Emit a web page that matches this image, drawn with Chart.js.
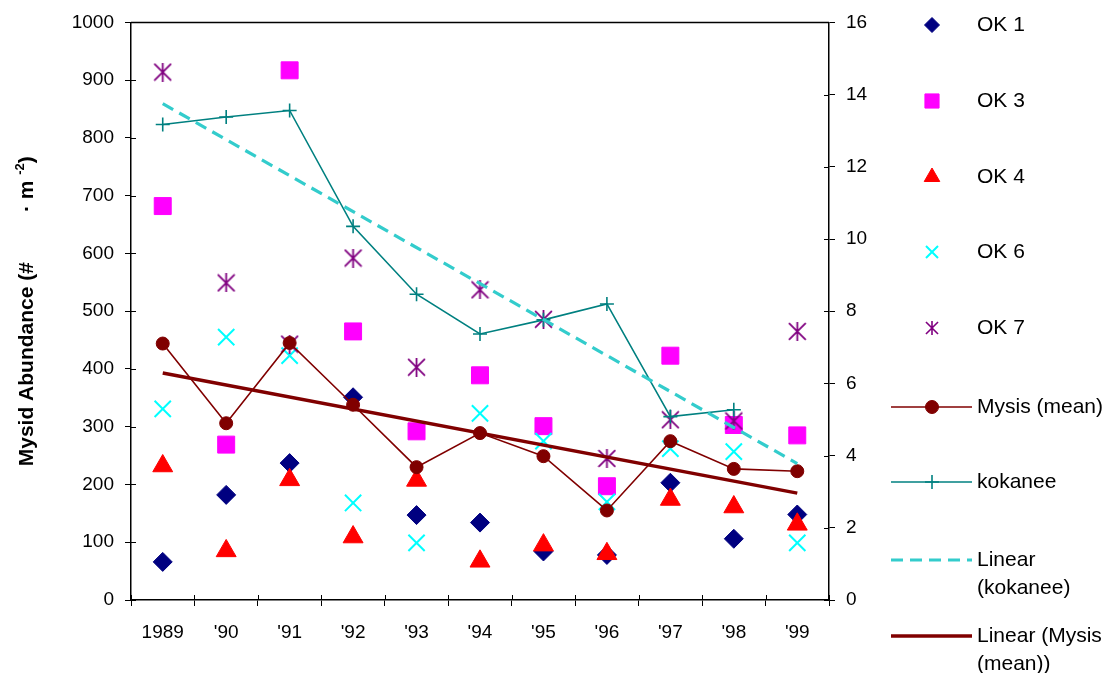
<!DOCTYPE html>
<html><head><meta charset="utf-8">
<script src="https://cdn.jsdelivr.net/npm/chart.js@4/dist/chart.umd.min.js"></script>
<style>html,body{margin:0;padding:0;background:#fff}#wrap{width:1112px;height:673px;position:relative}</style>
</head><body><div id="wrap"><canvas id="c" width="1112" height="673"></canvas></div>
<script>
const years = ['1989', "'90", "'91", "'92", "'93", "'94", "'95", "'96", "'97", "'98", "'99"];
const ok1 = [66, 182, 237, 351, 147, 134, 84, 78, 203, 106, 148];
const ok3 = [682, 269, 917, 465, 292, 389, 301, 197, 423, 303, 285];
const ok4 = [232, 85, 208, 109, 207, 67, 95, 80, 174, 161, 131];
const ok6 = [331, 455, 423, 168, 99, 323, 275, 170, 262, 257, 99];
const ok7 = [914, 549, 443, 592, 403, 537, 486, 245, 312, 310, 465];
const mysisMean = [444, 306, 445, 338, 230, 289, 249, 155, 275, 227, 223];
const kokanee = [13.17, 13.38, 13.56, 10.35, 8.47, 7.37, 7.76, 8.2, 5.08, 5.27, null];
const linearKokanee = [13.75, null, null, null, null, null, null, null, null, null, 3.78];
const linearMysis = [393, null, null, null, null, null, null, null, null, null, 185];
const leftAxis = {min: 0, max: 1000, step: 100};
const rightAxis = {min: 0, max: 16, step: 2};
const yTitle = ['Mysid Abundance (#', '\u00B7 m ', '-2', ')'];

const FONT = '"Liberation Sans", Arial, sans-serif';

function makeAsterisk(size, color, lw) {
  const c = document.createElement('canvas');
  c.width = size; c.height = size;
  const g = c.getContext('2d');
  g.strokeStyle = color; g.lineWidth = lw;
  const m = lw * 0.6;
  g.beginPath();
  g.moveTo(m, m); g.lineTo(size - m, size - m);
  g.moveTo(size - m, m); g.lineTo(m, size - m);
  g.moveTo(size / 2, 0); g.lineTo(size / 2, size);
  g.stroke();
  return c;
}
const astBig = makeAsterisk(19, '#800080', 1.8);
const astSmall = makeAsterisk(14, '#800080', 1.6);

const datasets = [
  {label: 'OK 1', data: ok1, showLine: false, pointStyle: 'rectRot', pointRadius: 9.5, pointBackgroundColor: '#000080', pointBorderColor: '#000080', pointBorderWidth: 1, yAxisID: 'y', order: 9, legendR: 7.5},
  {label: 'OK 3', data: ok3, showLine: false, pointStyle: 'rect', pointRadius: 12, pointBackgroundColor: '#FF00FF', pointBorderColor: '#FF00FF', pointBorderWidth: 1, yAxisID: 'y', order: 8, legendR: 10},
  {label: 'OK 4', data: ok4, showLine: false, pointStyle: 'triangle', pointRadius: 11.5, pointBackgroundColor: '#FF0000', pointBorderColor: '#FF0000', pointBorderWidth: 1, yAxisID: 'y', order: 7, legendR: 9},
  {label: 'OK 6', data: ok6, showLine: false, pointStyle: 'crossRot', pointRadius: 11.5, pointBackgroundColor: '#00FFFF', pointBorderColor: '#00FFFF', pointBorderWidth: 2, yAxisID: 'y', order: 6, legendR: 8.5},
  {label: 'OK 7', data: ok7, showLine: false, pointStyle: astBig, pointRadius: 9, pointBackgroundColor: '#800080', pointBorderColor: '#800080', pointBorderWidth: 1.5, yAxisID: 'y', order: 5, legendImg: astSmall},
  {label: 'Mysis (mean)', data: mysisMean, borderColor: '#800000', borderWidth: 1.6, pointStyle: 'circle', pointRadius: 6.5, pointBackgroundColor: '#800000', pointBorderColor: '#800000', pointBorderWidth: 1, yAxisID: 'y', order: 4, isLine: true, legendR: 6.5},
  {label: 'kokanee', data: kokanee, borderColor: '#008080', borderWidth: 1.6, pointStyle: 'cross', pointRadius: 7, pointBackgroundColor: '#008080', pointBorderColor: '#008080', pointBorderWidth: 1.6, yAxisID: 'y2', order: 3, isLine: true, legendR: 7},
  {label: ['Linear', '(kokanee)'], data: linearKokanee, borderColor: '#33CCCC', borderWidth: 3.2, borderDash: [12, 7], pointRadius: 0, spanGaps: true, yAxisID: 'y2', order: 2, isLine: true},
  {label: ['Linear (Mysis', '(mean))'], data: linearMysis, borderColor: '#800000', borderWidth: 3.5, pointRadius: 0, spanGaps: true, yAxisID: 'y', order: 1, isLine: true}
];
datasets.forEach(d => { d.fill = false; d.tension = 0; d.pointHoverRadius = d.pointRadius; if (!d.borderColor) d.borderColor = d.pointBorderColor; });

const legendYs = [25, 101, 177, 252, 328, 407, 482, 560, 636];

const framePlugin = {
  id: 'frame',
  beforeDatasetsDraw(chart) {
    const {ctx, chartArea: a, scales} = chart;
    ctx.save();
    ctx.strokeStyle = '#000';
    ctx.lineWidth = 1.5;
    ctx.beginPath();
    ctx.moveTo(a.left, a.top); ctx.lineTo(a.right, a.top);
    ctx.stroke();
    ctx.lineWidth = 1;
    ctx.beginPath();
    const ys = scales.y;
    for (let v = leftAxis.min; v <= leftAxis.max; v += leftAxis.step) {
      const p = Math.round(ys.getPixelForValue(v)) + 0.5;
      ctx.moveTo(a.left, p); ctx.lineTo(a.left + 5, p);
    }
    const y2 = scales.y2;
    for (let v = rightAxis.min; v <= rightAxis.max; v += rightAxis.step) {
      const p = Math.round(y2.getPixelForValue(v)) + 0.5;
      ctx.moveTo(a.right, p); ctx.lineTo(a.right - 5, p);
    }
    const xs = scales.x;
    for (let i = 0; i <= years.length; i++) {
      const p = Math.round(xs.getPixelForValue(i - 0.5)) + 0.5;
      ctx.moveTo(p, a.bottom); ctx.lineTo(p, a.bottom - 5);
    }
    ctx.stroke();
    ctx.restore();
  },
  afterDraw(chart) {
    const {ctx, chartArea: a} = chart;
    // y axis title
    ctx.save();
    const cy = (a.top + a.bottom) / 2;
    ctx.translate(27, cy);
    ctx.rotate(-Math.PI / 2);
    ctx.fillStyle = '#000';
    ctx.textBaseline = 'middle';
    const fMain = 'bold 21px ' + FONT, fSup = 'bold 13px ' + FONT;
    ctx.font = fMain;
    const w1 = ctx.measureText(yTitle[0]).width;
    const w2 = ctx.measureText(yTitle[1]).width;
    const w4 = ctx.measureText(yTitle[3]).width;
    ctx.font = fSup;
    const w3 = ctx.measureText(yTitle[2]).width;
    const gap = 50;
    const total = w1 + gap + w2 + w3 + w4;
    let x = -total / 2;
    ctx.font = fMain;
    ctx.fillText(yTitle[0], x, 0); x += w1 + gap;
    ctx.fillText(yTitle[1], x, 0); x += w2;
    ctx.font = fSup;
    ctx.fillText(yTitle[2], x, -7); x += w3;
    ctx.font = fMain;
    ctx.fillText(yTitle[3], x, 0);
    ctx.restore();

    // legend
    ctx.save();
    ctx.font = '21px ' + FONT;
    ctx.textBaseline = 'middle';
    datasets.forEach((d, i) => {
      const y = legendYs[i];
      if (d.isLine) {
        ctx.save();
        ctx.strokeStyle = d.borderColor;
        ctx.lineWidth = d.borderWidth;
        ctx.setLineDash(d.borderDash || []);
        ctx.beginPath(); ctx.moveTo(891, y); ctx.lineTo(972, y); ctx.stroke();
        ctx.restore();
      }
      if (d.legendR || d.legendImg) {
        ctx.save();
        ctx.fillStyle = d.pointBackgroundColor;
        ctx.strokeStyle = d.pointBorderColor;
        ctx.lineWidth = d.pointBorderWidth;
        Chart.helpers.drawPoint(ctx, {pointStyle: d.legendImg || d.pointStyle, radius: d.legendR || 7, borderWidth: d.pointBorderWidth, rotation: 0}, 932, y);
        ctx.restore();
      }
      ctx.fillStyle = '#000';
      const lines = Array.isArray(d.label) ? d.label : [d.label];
      lines.forEach((t, k) => ctx.fillText(t, 977, y + k * 28));
    });
    ctx.restore();
  }
};

new Chart(document.getElementById('c'), {
  type: 'line',
  data: {labels: years, datasets: datasets},
  options: {
    responsive: false,
    animation: false,
    devicePixelRatio: 1,
    layout: {padding: {left: 0, right: 233, top: 21, bottom: 0}},
    plugins: {legend: {display: false}, tooltip: {enabled: false}},
    scales: {
      x: {
        type: 'category', offset: true,
        grid: {display: true, drawOnChartArea: false, offset: true, tickLength: 6, color: '#000', tickColor: '#000', lineWidth: 1},
        border: {display: true, color: '#000', width: 1.5},
        ticks: {color: '#000', font: {family: FONT, size: 19}, padding: 15, maxRotation: 0, autoSkip: false},
        afterFit(s) { s.height = 73; }
      },
      y: {
        position: 'left', min: leftAxis.min, max: leftAxis.max,
        grid: {display: true, drawOnChartArea: false, tickLength: 6, color: '#000', tickColor: '#000', lineWidth: 1},
        border: {display: true, color: '#000', width: 1.5},
        ticks: {stepSize: leftAxis.step, color: '#000', font: {family: FONT, size: 19}, padding: 11, callback: v => String(v)},
        afterFit(s) { s.width = 131; }
      },
      y2: {
        position: 'right', min: rightAxis.min, max: rightAxis.max,
        grid: {display: true, drawOnChartArea: false, tickLength: 6, color: '#000', tickColor: '#000', lineWidth: 1},
        border: {display: true, color: '#000', width: 1.5},
        ticks: {stepSize: rightAxis.step, color: '#000', font: {family: FONT, size: 19}, padding: 11, callback: v => String(v)},
        afterFit(s) { s.width = 50; }
      }
    }
  },
  plugins: [framePlugin]
});
</script></body></html>
